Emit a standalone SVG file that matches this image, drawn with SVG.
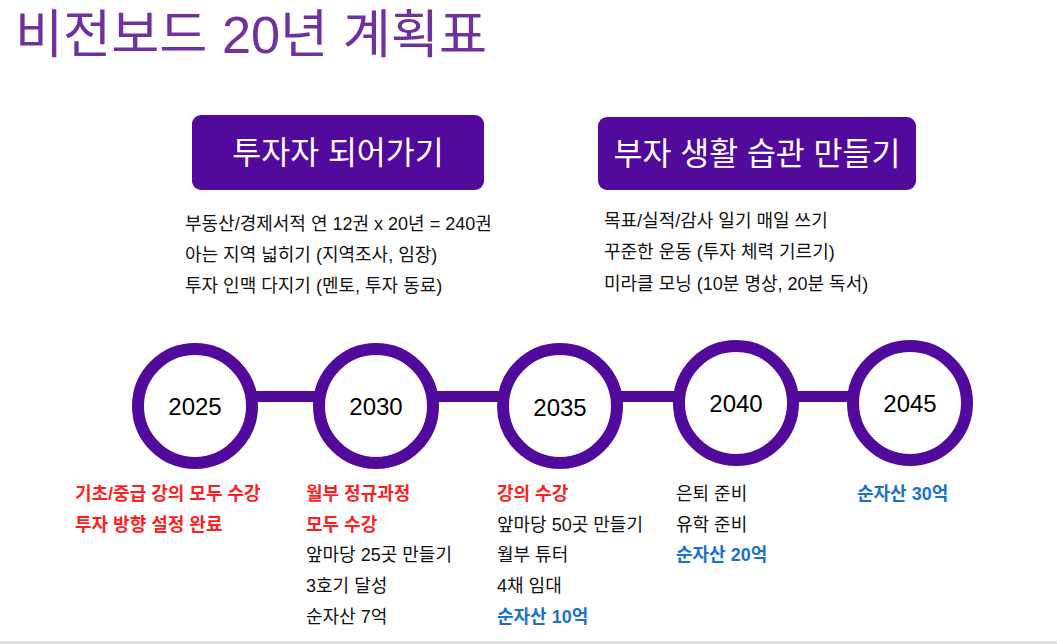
<svg xmlns="http://www.w3.org/2000/svg" width="1057" height="644" viewBox="0 0 1057 644">
<style>
  text { font-family: "Liberation Sans", "Noto Sans CJK KR", sans-serif; }
  .title { font-size: 52px; fill: #7030A0; }
  .btn { fill: #510A9B; }
  .btntext { font-size: 31.5px; fill: #FFFFFF; text-anchor: middle; }
  .body { font-size: 18px; fill: #111111; }
  .ring { fill: #FFFFFF; stroke: #510A9B; stroke-width: 12; }
  .year { font-size: 24px; fill: #000000; text-anchor: middle; }
  .conn { stroke: #510A9B; stroke-width: 11; fill: none; }
  .red { font-size: 18px; font-weight: bold; fill: #FF1E1E; }
  .blue { font-size: 18px; font-weight: bold; fill: #1A72C9; }
  .norm { font-size: 18px; fill: #111111; }
</style>
<rect x="0" y="0" width="1057" height="644" fill="#FFFFFF"/>
<text class="title" x="15" y="53" textLength="472" lengthAdjust="spacingAndGlyphs">비전보드 20년 계획표</text>

<g id="goal-investor">
  <rect class="btn" x="192" y="115" width="292" height="75" rx="9"/>
  <text class="btntext" x="338" y="164">투자자 되어가기</text>
  <text class="body" x="185" y="230">부동산/경제서적 연 12권 x 20년 = 240권</text>
  <text class="body" x="185" y="261">아는 지역 넓히기 (지역조사, 임장)</text>
  <text class="body" x="185" y="292">투자 인맥 다지기 (멘토, 투자 동료)</text>
</g>

<g id="goal-habits">
  <rect class="btn" x="598" y="117" width="318" height="73" rx="9"/>
  <text class="btntext" x="757" y="165">부자 생활 습관 만들기</text>
  <text class="body" x="604" y="227">목표/실적/감사 일기 매일 쓰기</text>
  <text class="body" x="604" y="258">꾸준한 운동 (투자 체력 기르기)</text>
  <text class="body" x="604" y="290">미라클 모닝 (10분 명상, 20분 독서)</text>
</g>

<g id="connectors">
  <line class="conn" x1="195" y1="396.5" x2="376" y2="396.5"/>
  <line class="conn" x1="376" y1="396.5" x2="560" y2="396.5"/>
  <line class="conn" x1="560" y1="396.5" x2="736" y2="396.5"/>
  <line class="conn" x1="736" y1="396.5" x2="910" y2="396.5"/>
</g>

<g id="y2025">
  <circle class="ring" cx="195" cy="406" r="57"/>
  <text class="year" x="195" y="415">2025</text>
  <text class="red" x="75" y="500">기초/중급 강의 모두 수강</text>
  <text class="red" x="75" y="531">투자 방향 설정 완료</text>
</g>

<g id="y2030">
  <circle class="ring" cx="376" cy="406" r="57"/>
  <text class="year" x="376" y="415">2030</text>
  <text class="red" x="306" y="500">월부 정규과정</text>
  <text class="red" x="306" y="531">모두 수강</text>
  <text class="norm" x="306" y="561">앞마당 25곳 만들기</text>
  <text class="norm" x="306" y="592">3호기 달성</text>
  <text class="norm" x="306" y="623">순자산 7억</text>
</g>

<g id="y2035">
  <circle class="ring" cx="560" cy="406" r="57"/>
  <text class="year" x="560" y="416">2035</text>
  <text class="red" x="497" y="500">강의 수강</text>
  <text class="norm" x="497" y="531">앞마당 50곳 만들기</text>
  <text class="norm" x="497" y="561">월부 튜터</text>
  <text class="norm" x="497" y="592">4채 임대</text>
  <text class="blue" x="497" y="623">순자산 10억</text>
</g>

<g id="y2040">
  <circle class="ring" cx="736" cy="403" r="57"/>
  <text class="year" x="736" y="412">2040</text>
  <text class="norm" x="676" y="500">은퇴 준비</text>
  <text class="norm" x="676" y="531">유학 준비</text>
  <text class="blue" x="676" y="561">순자산 20억</text>
</g>

<g id="y2045">
  <circle class="ring" cx="910" cy="403" r="57"/>
  <text class="year" x="910" y="412">2045</text>
  <text class="blue" x="857" y="500">순자산 30억</text>
</g>

<line x1="0" y1="642.5" x2="1057" y2="642.5" stroke="#D4D4D4" stroke-width="2"/>
</svg>
